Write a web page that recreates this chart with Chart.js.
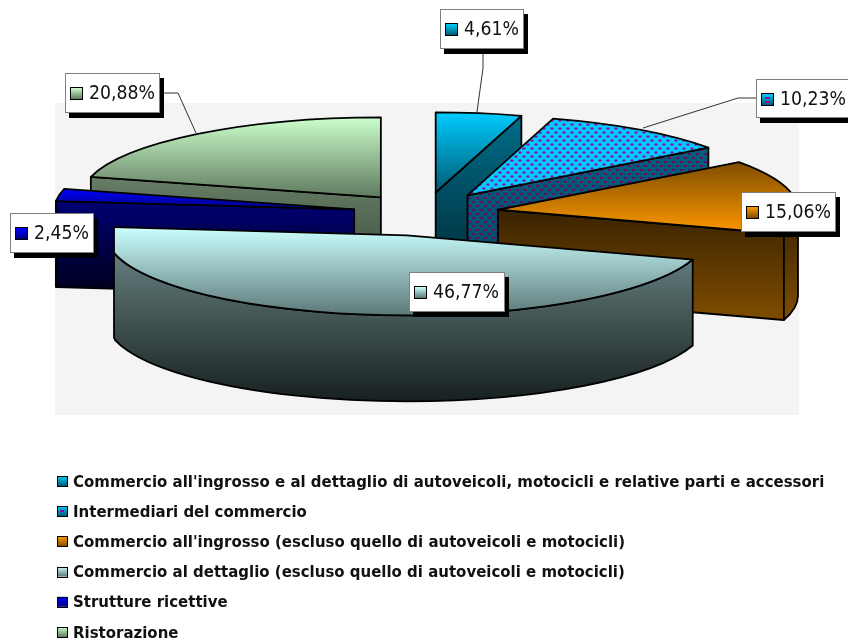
<!DOCTYPE html>
<html><head><meta charset="utf-8">
<style>html,body{margin:0;padding:0;background:#fff}canvas{display:block}</style>
<script src="https://cdn.jsdelivr.net/npm/chart.js@4"></script>
</head><body><canvas id="c" width="848" height="644"></canvas>
<script>
const categories = [
  "Commercio all'ingrosso e al dettaglio di autoveicoli, motocicli e relative parti e accessori",
  "Intermediari del commercio",
  "Commercio all'ingrosso (escluso quello di autoveicoli e motocicli)",
  "Commercio al dettaglio (escluso quello di autoveicoli e motocicli)",
  "Strutture ricettive",
  "Ristorazione"
];
const shares = [4.61, 10.23, 15.06, 46.77, 2.45, 20.88];
const baseColors = ['#00ccff', '#00ccff', '#ff9900', '#ccffff', '#0000ff', '#ccffcc'];
const topFrom = ['#00ccff', '#00ccff', '#7f4d00', '#ccffff', '#0000ff', '#ccffcc'];
const topTo   = ['#005a72', '#00ccff', '#ff9900', '#5c7878', '#000080', '#5f7a5f'];
const sideFrom = ['#006f8b', '#006680', '#1c1000', '#728e8e', '#000080', '#7f9a7f'];
const sideTo   = ['#002a36', '#004c60', '#7f4d00', '#182020', '#000018', '#3a4a3a'];
const swatchFrom = ['#00ccff', '#00ccff', '#ff9900', '#ccffff', '#0000ff', '#ccffcc'];
const swatchTo   = ['#005a72', '#005a72', '#7f4d00', '#5c7878', '#000080', '#5f7a5f'];
const dotted = [false, true, false, false, false, false];

const SQUASH = 80 / 300, DEPTH = 86, EXPLODE = 74, RADIUS = 300;
const sliceNudge = [[0,-1],[0,-1.5],[0,0],[-3,3],[2,0],[1,0]];
const rimClipLeft = [null,null,null,114,null,null];
const labelBoxes = [
  {x:440,y:9,w:84,h:40},{x:756,y:79,w:96,h:39},{x:741,y:192,w:95,h:40},
  {x:409,y:272,w:96,h:40},{x:10,y:213,w:84,h:40},{x:65,y:73,w:95,h:40}
];
const leaders = [
  [[483,54],[483,68],[477,112]],
  [[756,98],[738,98],[643,128]],
  null,null,null,
  [[160,93],[178,93],[196,133]]
];
const legendX = 57, legendTop = 476, legendStep = 30.2;

function dotPattern(ctx, color, counterSquash) {
  const t = document.createElement('canvas'); t.width = 8; t.height = 8;
  const g = t.getContext('2d'); g.fillStyle = color;
  g.fillRect(0,1,3,2); g.fillRect(4,5,3,2);
  const p = ctx.createPattern(t, 'repeat');
  if (counterSquash) p.setTransform(new DOMMatrix().scale(1, 1 / SQUASH));
  return p;
}
function vGrad(ctx, y0, y1, a, b) {
  const g = ctx.createLinearGradient(0, y0, 0, y1);
  g.addColorStop(0, a); g.addColorStop(1, b); return g;
}
function pct(v){ return v.toFixed(2).replace('.', ',') + '%'; }
function squeezedText(ctx, text, x, y, sx) {
  ctx.save(); ctx.translate(x, y); ctx.scale(sx, 1); ctx.fillText(text, 0, 0); ctx.restore();
}

const pie3d = {
  id: 'pie3d',
  beforeDraw(chart) {
    const c = chart.ctx; c.save(); c.fillStyle = '#f4f4f4';
    c.fillRect(55, 103, 744, 312); c.restore();
  },
  beforeDatasetsDraw(chart) {
    const ctx = chart.ctx, arcs = chart.getDatasetMeta(0).data;
    const items = arcs.map((arc, i) => {
      const mid = (arc.startAngle + arc.endAngle) / 2;
      return {arc, i, ax: arc.x + Math.cos(mid) * EXPLODE + sliceNudge[i][0],
              ay: arc.y + Math.sin(mid) * EXPLODE * SQUASH + sliceNudge[i][1]};
    }).sort((p, q) => p.ay - q.ay);

    items.forEach(({arc, i, ax, ay}) => {
      const r = arc.outerRadius, rx = r, ry = r * SQUASH;
      const a0 = arc.startAngle, a1 = arc.endAngle;
      const pt = a => [ax + Math.cos(a) * rx, ay + Math.sin(a) * ry];
      const p0 = pt(a0), p1 = pt(a1);
      let ys = [ay, p0[1], p1[1]];
      [-Math.PI/2, Math.PI/2].forEach(k => { if (k > a0 && k < a1) ys.push(ay + Math.sin(k) * ry); });
      const yMin = Math.min(...ys), yMax = Math.max(...ys);

      const sideGrad = vGrad(ctx, yMin, yMax + DEPTH, sideFrom[i], sideTo[i]);
      const sidePat = dotted[i] ? dotPattern(ctx, '#5a1070', false) : null;
      ctx.save();
      ctx.lineWidth = 1.8; ctx.strokeStyle = '#000'; ctx.lineJoin = 'round';
      if (rimClipLeft[i] !== null) {
        ctx.beginPath(); ctx.rect(rimClipLeft[i], 0, 848, 644); ctx.clip();
      }

      const quad = (pa, pb) => {
        ctx.beginPath();
        ctx.moveTo(pa[0], pa[1]); ctx.lineTo(pb[0], pb[1]);
        ctx.lineTo(pb[0], pb[1] + DEPTH); ctx.lineTo(pa[0], pa[1] + DEPTH);
        ctx.closePath();
        ctx.fillStyle = sideGrad; ctx.fill();
        if (sidePat) { ctx.fillStyle = sidePat; ctx.fill(); }
        ctx.stroke();
      };
      if (Math.sin(a0 - Math.PI/2) > 0) quad([ax, ay], p0);
      if (Math.sin(a1 + Math.PI/2) > 0) quad([ax, ay], p1);
      for (const base of [0, 2 * Math.PI, -2 * Math.PI]) {
        const s = Math.max(a0, base), e = Math.min(a1, base + Math.PI);
        if (e > s) {
          ctx.beginPath();
          ctx.ellipse(ax, ay, rx, ry, 0, s, e);
          ctx.ellipse(ax, ay + DEPTH, rx, ry, 0, e, s, true);
          ctx.closePath();
          ctx.fillStyle = sideGrad; ctx.fill();
          if (sidePat) { ctx.fillStyle = sidePat; ctx.fill(); }
          ctx.stroke();
        }
      }
      const toLocal = y => arc.y + (y - ay) / SQUASH;
      const topGrad = vGrad(ctx, toLocal(yMin), toLocal(yMax), topFrom[i], topTo[i]);
      const opts = arc.options;
      const flat = fill => {
        ctx.save();
        ctx.translate(ax, ay); ctx.scale(1, SQUASH); ctx.translate(-arc.x, -arc.y);
        arc.options = Object.assign({}, opts, {backgroundColor: fill, borderWidth: 0});
        arc.draw(ctx);
        arc.options = opts;
        ctx.restore();
      };
      flat(topGrad);
      if (dotted[i]) flat(dotPattern(ctx, '#990099', true));
      ctx.beginPath();
      ctx.moveTo(ax, ay);
      ctx.ellipse(ax, ay, rx, ry, 0, a0, a1);
      ctx.closePath();
      ctx.stroke();
      ctx.restore();

      if (rimClipLeft[i] !== null) {
        const x = rimClipLeft[i];
        const t = (x - ax) / (p1[0] - ax);
        const yTop = ay + (p1[1] - ay) * t;
        const d = (x - ax) / rx;
        const yEdge = ay + ry * Math.sqrt(Math.max(0, 1 - d * d));
        ctx.save();
        ctx.lineWidth = 1.8; ctx.strokeStyle = '#000';
        ctx.beginPath(); ctx.moveTo(x, yTop); ctx.lineTo(x, yEdge + DEPTH); ctx.stroke();
        ctx.restore();
      }
    });
    return false;
  },
  afterDraw(chart) {
    const ctx = chart.ctx;
    ctx.save();
    ctx.strokeStyle = '#333'; ctx.lineWidth = 1;
    leaders.forEach(l => {
      if (!l) return;
      ctx.beginPath(); l.forEach((p, k) => k ? ctx.lineTo(p[0], p[1]) : ctx.moveTo(p[0], p[1]));
      ctx.stroke();
    });
    shares.forEach((v, i) => {
      const b = labelBoxes[i];
      ctx.fillStyle = '#000'; ctx.fillRect(b.x + 4, b.y + 5, b.w, b.h);
      ctx.fillStyle = '#fff'; ctx.fillRect(b.x, b.y, b.w, b.h);
      ctx.strokeStyle = '#808080'; ctx.lineWidth = 1;
      ctx.strokeRect(b.x + .5, b.y + .5, b.w - 1, b.h - 1);
      const sx = b.x + 6, sy = b.y + 15;
      ctx.fillStyle = vGrad(ctx, sy, sy + 11, swatchFrom[i], swatchTo[i]);
      ctx.fillRect(sx, sy, 11, 11);
      if (dotted[i]) { ctx.fillStyle = '#990099'; ctx.fillRect(sx + 3, sy + 3, 5, 2); ctx.fillRect(sx + 3, sy + 7, 5, 2); }
      ctx.strokeStyle = '#000'; ctx.strokeRect(sx - .5, sy - .5, 12, 12);
      ctx.fillStyle = '#111'; ctx.font = '20px "DejaVu Sans"';
      ctx.textAlign = 'left'; ctx.textBaseline = 'middle';
      squeezedText(ctx, pct(v), sx + 18, b.y + b.h / 2 + 1, 0.866);
    });
    categories.forEach((name, i) => {
      const y = legendTop + i * legendStep, s = 10;
      ctx.fillStyle = vGrad(ctx, y, y + s, swatchFrom[i], swatchTo[i]);
      ctx.fillRect(legendX, y, s, s);
      if (dotted[i]) { ctx.fillStyle = '#990099'; ctx.fillRect(legendX + 3, y + 4, 4, 2); }
      ctx.strokeStyle = '#000'; ctx.lineWidth = 1;
      ctx.strokeRect(legendX + .5, Math.round(y) + .5, s, s);
      ctx.fillStyle = '#111'; ctx.font = 'bold 16px "DejaVu Sans"';
      ctx.textAlign = 'left'; ctx.textBaseline = 'middle';
      squeezedText(ctx, name, 73, y + 6.5, 0.936);
    });
    ctx.restore();
  }
};

new Chart(document.getElementById('c'), {
  type: 'pie',
  plugins: [pie3d],
  data: { labels: categories, datasets: [{ data: shares, backgroundColor: baseColors, borderWidth: 0, radius: RADIUS }] },
  options: {
    responsive: false, animation: false, devicePixelRatio: 1,
    layout: { padding: { left: 2, bottom: 218 } },
    plugins: { legend: { display: false }, tooltip: { enabled: false } }
  }
});
</script></body></html>
